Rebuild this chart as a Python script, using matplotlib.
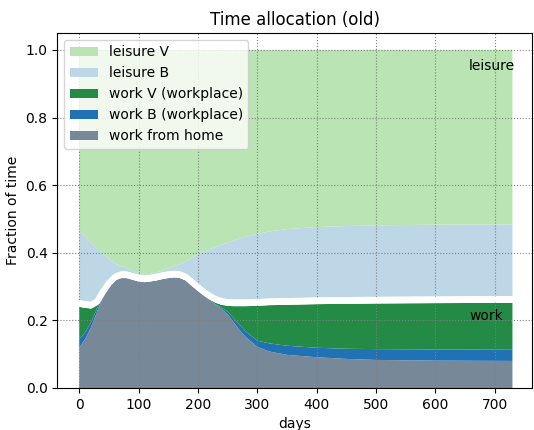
import numpy as np
import matplotlib
matplotlib.use("Agg")
import matplotlib.pyplot as plt

# days
days = [0, 10, 20, 30, 40, 50, 60, 70, 80, 90, 100, 110, 120, 130, 140, 150,
        160, 170, 180, 190, 200, 210, 220, 230, 240, 250, 260, 270, 280, 300,
        320, 350, 400, 450, 500, 600, 730]

# cumulative boundaries
top_home = [0.120, 0.145, 0.180, 0.225, 0.270, 0.300, 0.318, 0.325, 0.325, 0.320,
            0.315, 0.313, 0.315, 0.318, 0.322, 0.325, 0.327, 0.325, 0.318, 0.303,
            0.288, 0.274, 0.260, 0.247, 0.234, 0.218, 0.195, 0.172, 0.152, 0.122,
            0.108, 0.098, 0.091, 0.086, 0.083, 0.081, 0.080]
top_work_b = [0.145, 0.165, 0.195, 0.235, 0.272, 0.300, 0.318, 0.325, 0.325, 0.320,
              0.315, 0.313, 0.315, 0.318, 0.322, 0.325, 0.327, 0.325, 0.318, 0.303,
              0.288, 0.274, 0.260, 0.247, 0.238, 0.226, 0.207, 0.188, 0.168, 0.140,
              0.132, 0.125, 0.119, 0.116, 0.115, 0.114, 0.113]
top_work = [0.240, 0.237, 0.235, 0.245, 0.275, 0.300, 0.318, 0.325, 0.325, 0.320,
            0.315, 0.313, 0.315, 0.318, 0.322, 0.325, 0.327, 0.325, 0.318, 0.303,
            0.288, 0.274, 0.262, 0.252, 0.246, 0.243, 0.242, 0.242, 0.242, 0.243,
            0.245, 0.246, 0.248, 0.249, 0.250, 0.251, 0.252]
top_leisure_b = [0.465, 0.448, 0.430, 0.412, 0.397, 0.382, 0.368, 0.360, 0.355, 0.347,
                 0.338, 0.334, 0.338, 0.342, 0.347, 0.353, 0.360, 0.367, 0.375, 0.384,
                 0.395, 0.403, 0.410, 0.417, 0.424, 0.430, 0.436, 0.442, 0.447, 0.456,
                 0.463, 0.470, 0.476, 0.479, 0.481, 0.483, 0.484]
top_total = [1.0] * len(days)

labels = ['work from home', 'work B (workplace)', 'work V (workplace)',
          '_gap', 'leisure B', 'leisure V']
colors = ['#778899', '#2171b5', '#238b45', 'white', '#bdd7e7', '#bae4b3']

# white separating band between work and leisure
gap = 0.02


def main():
    work = np.array(top_work)
    lb = np.maximum(np.array(top_leisure_b), work + gap)
    tops = np.array([top_home, top_work_b, top_work, work + gap, lb, top_total])
    layers = np.diff(np.vstack([np.zeros(len(days)), tops]), axis=0)

    fig = plt.figure(figsize=(5.34, 4.30), dpi=100)
    ax = fig.add_axes([0.1073, 0.0977, 0.889, 0.8256])

    ax.stackplot(days, layers, labels=labels, colors=colors)
    # thick white line along the work/leisure border
    ax.plot(days, work + gap / 2, color='white', linewidth=4.5,
            solid_capstyle='round')

    ax.text(657, 0.953, 'leisure', va='center', fontsize=10)
    ax.text(657, 0.213, 'work', va='center', fontsize=10)

    ax.grid(True, linestyle=':', color='gray', linewidth=0.8)
    ax.set_xlim(-37, 763)
    ax.set_ylim(0, 1.05)
    ax.set_xticks([0, 100, 200, 300, 400, 500, 600, 700])
    ax.set_yticks([0.0, 0.2, 0.4, 0.6, 0.8, 1.0])

    ax.set_xlabel('days')
    ax.set_ylabel('Fraction of time')
    ax.set_title('Time allocation (old)')

    handles, labs = ax.get_legend_handles_labels()
    ax.legend(handles[::-1], labs[::-1], loc='upper left')

    fig.savefig('out.png', dpi=100)


if __name__ == "__main__":
    main()
